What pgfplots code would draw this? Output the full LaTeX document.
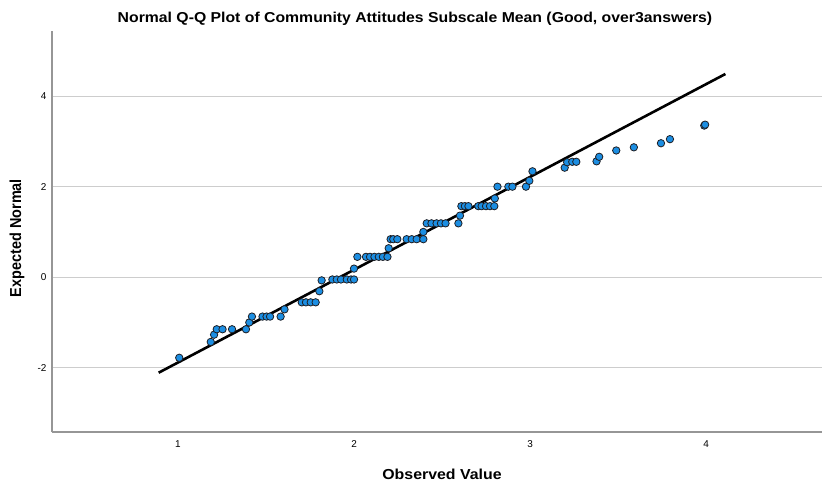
\documentclass[border=0pt]{standalone}
\usepackage{pgfplots}
\pgfplotsset{compat=1.18}
\usepackage{fontspec}
\setmainfont{Liberation Sans}
\definecolor{ptfill}{RGB}{28,142,226}
\definecolor{ptedge}{RGB}{30,30,35}
\definecolor{gridc}{RGB}{205,205,205}
\definecolor{axisc}{RGB}{150,150,150}
\begin{document}
\begin{tikzpicture}
\begin{axis}[
  scale only axis,
  width=770bp, height=401bp,
  at={(0,0)}, anchor=south west,
  xmin=0.284, xmax=4.659,
  ymin=-3.42, ymax=5.44,
  axis x line*=bottom, axis y line*=left,
  axis line style={-, axisc, line width=1.2bp},
  xtick={1,2,3,4}, ytick={-2,0,2,4},
  major tick length=0pt,
  ymajorgrids,
  major grid style={gridc, line width=1.2bp},
  tick label style={font=\fontsize{10}{12}\selectfont},
  /pgf/number format/assume math mode=true,
  xticklabel style={yshift=-5bp},
  yticklabel style={xshift=-2bp},
  clip=false,
]
% reference line of the normal distribution
\addplot[black, line width=2.6bp] coordinates {(0.89,-2.11) (4.11,4.49)};
% observed values against expected normal quantiles
\addplot[only marks, mark=*, mark size=3.7bp,
  mark options={fill=ptfill, draw=ptedge, line width=0.8bp}] table {
x y
1.007 -1.78
1.186 -1.43
1.205 -1.27
1.220 -1.15
1.253 -1.15
1.307 -1.15
1.386 -1.15
1.405 -1.00
1.420 -0.87
1.480 -0.87
1.503 -0.87
1.523 -0.87
1.583 -0.87
1.605 -0.71
1.703 -0.555
1.727 -0.555
1.754 -0.555
1.782 -0.555
1.803 -0.31
1.816 -0.07
1.877 -0.05
1.902 -0.05
1.926 -0.05
1.959 -0.05
1.983 -0.05
2.000 -0.05
2.000 0.19
2.019 0.45
2.068 0.45
2.091 0.45
2.116 0.45
2.141 0.45
2.164 0.45
2.190 0.45
2.197 0.64
2.208 0.84
2.223 0.84
2.246 0.84
2.299 0.84
2.328 0.84
2.356 0.84
2.394 0.84
2.394 1.00
2.413 1.19
2.440 1.19
2.469 1.19
2.494 1.19
2.520 1.19
2.593 1.19
2.602 1.36
2.610 1.57
2.630 1.57
2.650 1.57
2.706 1.57
2.725 1.57
2.750 1.57
2.773 1.57
2.797 1.57
2.800 1.74
2.815 2.00
2.877 2.00
2.900 2.00
2.977 2.00
2.996 2.13
3.014 2.34
3.197 2.42
3.211 2.54
3.240 2.55
3.263 2.55
3.378 2.56
3.393 2.66
3.490 2.80
3.590 2.87
3.744 2.96
3.795 3.05
3.990 3.35
3.995 3.37
};
\end{axis}
% titles, set slightly wide as in the chart's lettering
\node[font=\bfseries\fontsize{14.4}{17}\selectfont] at (363bp,413bp)
  {\scalebox{1.1}[1]{Normal Q-Q Plot of Community Attitudes Subscale Mean (Good, over3answers)}};
\node[font=\bfseries\fontsize{14.5}{17}\selectfont] at (390bp,-42bp)
  {\scalebox{1.1}[1]{Observed Value}};
\node[font=\bfseries\fontsize{14.5}{17}\selectfont, rotate=90] at (-35bp,194bp)
  {\scalebox{1}[1.1]{Expected Normal}};
\pgfresetboundingbox
\path[use as bounding box] (-52bp,-55bp) rectangle (770bp,432bp);
\end{tikzpicture}
\end{document}
